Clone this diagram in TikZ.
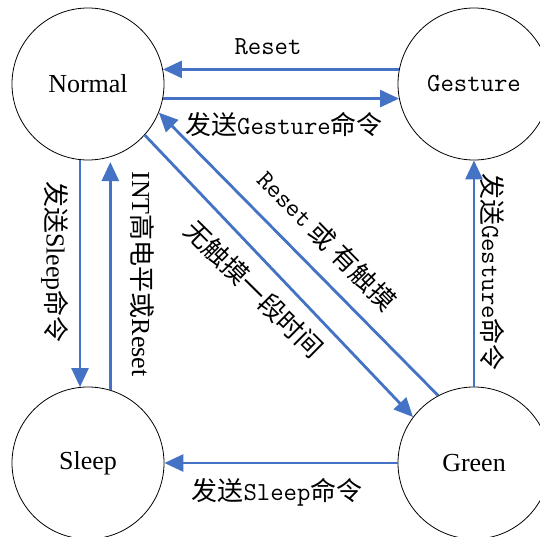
\documentclass[tikz,border=0pt]{standalone}
\usepackage{fontspec}
\setmainfont{Liberation Serif}
\newfontfamily\cjk{Noto Sans CJK SC}
\usetikzlibrary{arrows.meta}
\definecolor{flowblue}{HTML}{4472C4}
\newcommand{\zh}[1]{{\cjk #1}}

\begin{document}
\begin{tikzpicture}[x=1pt,y=-1pt,every path/.style={>={Triangle[length=19pt,width=17pt]}},
  state/.style={draw,circle,minimum size=152pt,inner sep=0pt,line width=0.8pt},
  flow/.style={->,draw=flowblue,line width=2.8pt},
  lbl/.style={inner sep=0pt},
  font=\fontsize{26}{30}\selectfont]
\useasboundingbox (0,0) rectangle (540,537);
% states
\node[state] (normal)  at (88,84)   { Normal };
\node[state] (gesture) at (474,84)  { \ttfamily Gesture };
\node[state] (sleep)   at (88,463)  { Sleep };
\node[state] (green)   at (474,463) { Green };
% transitions
\draw[flow]                (gesture.169) -- (normal.11);
\draw[flow]                (normal.-11)  -- (gesture.-169);
\draw[flow]                (normal.-96)  -- (sleep.96);
\draw[flow, shorten >=5pt] (sleep.73)    -- (normal.-73);
\draw[flow]                (green.north) -- (gesture.south);
\draw[flow]                (green.west)  -- (sleep.east);
\draw[flow]                (green.118)   -- (normal.-22);
\draw[flow]                (normal.-42)  -- (green.143);
% labels
\node[lbl]              (treset)    at (268,47)  { \ttfamily Reset };
\node[lbl]              (tsendges)  at (284,125) { \zh{发送}\texttt{Gesture}\zh{命令} };
\node[lbl]              (tsendslp)  at (277,492) { \zh{发送}\texttt{Sleep}\zh{命令} };
\node[lbl,rotate=-90]   (tsleepcmd) at (55,262)  { \zh{发送}Sleep\zh{命令} };
\node[lbl,rotate=-90]   (tint)      at (142,274) { INT\zh{高电平或}Reset };
\node[lbl,rotate=-90]   (tgescmd)   at (492,272) { \zh{发送}\texttt{Gesture}\zh{命令} };
\node[lbl,rotate=-45.6] (ttouch)    at (327,240) { \texttt{Reset} \zh{或} \zh{有触摸} };
\node[lbl,rotate=-44.7] (tidle)     at (254,289) { \zh{无触摸一段时间} };
\end{tikzpicture}
\end{document}
